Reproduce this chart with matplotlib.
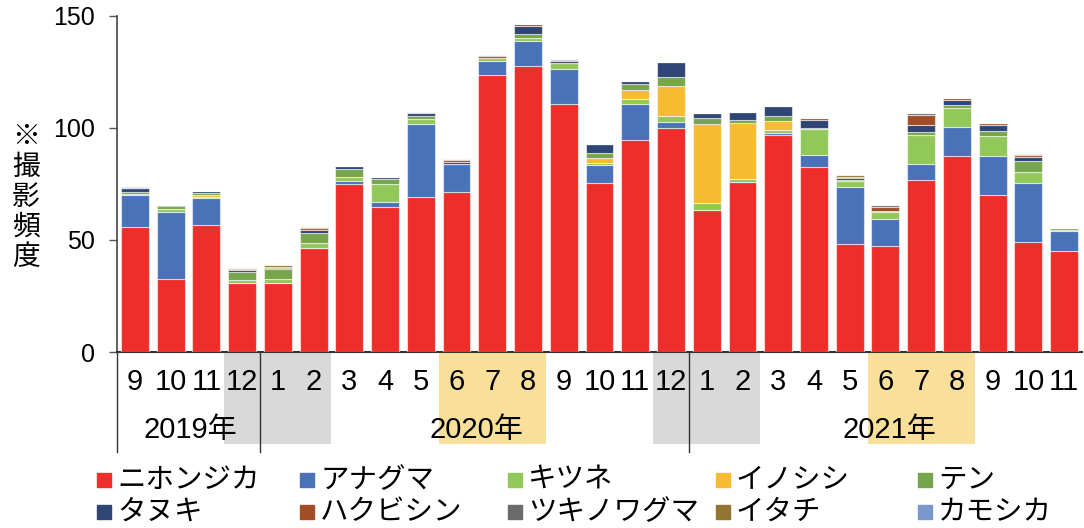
import matplotlib
matplotlib.use("Agg")
import matplotlib.pyplot as plt
from matplotlib import font_manager
from matplotlib.patches import Rectangle
from matplotlib.transforms import blended_transform_factory
import numpy as np

# ---- data -------------------------------------------------------------
months = ["9", "10", "11", "12",
          "1", "2", "3", "4", "5", "6", "7", "8", "9", "10", "11", "12",
          "1", "2", "3", "4", "5", "6", "7", "8", "9", "10", "11"]
years = ["2019年", "2020年", "2021年"]

species = ["ニホンジカ", "アナグマ", "キツネ", "イノシシ", "テン",
           "タヌキ", "ハクビシン", "ツキノワグマ", "イタチ", "カモシカ"]

sika = [56, 32.5, 56.5, 31, 31, 46.3, 75, 64.6, 69.2, 71.6, 123.5, 127.8, 110.6,
        75.6, 94.5, 99.8, 63.3, 76, 96.7, 82.7, 48.2, 47.2, 76.6, 87.3, 70.2, 49.1, 45]
anaguma = [14, 30, 12.4, 0, 0, 0.3, 1.5, 2.4, 32.7, 12.5, 6.6, 11.2, 15.9,
           8, 16.4, 3, 0, 0, 1.2, 5.2, 25.6, 12.3, 7.3, 13, 17.4, 26.5, 9.2]
kitsune = [0.7, 1.2, 0.4, 1.3, 1.5, 2.1, 1.6, 8.1, 2.1, 0, 1.0, 1.3, 2.5,
           0.6, 1.9, 2.7, 3.1, 1.4, 1.0, 11.8, 2.5, 3.0, 13, 8.6, 8.8, 4.8, 0.3]
inoshishi = [0, 0, 0.7, 0, 0, 0, 0, 0, 0, 0, 0, 0, 0,
             2.5, 4.3, 13.4, 35.5, 24.8, 4.4, 0, 0, 0, 0, 0, 0, 0, 0]
ten = [0.8, 1.4, 0.9, 3.4, 4.6, 4.6, 3.6, 2.3, 1.5, 0, 0.3, 1.8, 0,
       2.1, 2.7, 3.9, 2.7, 1.5, 2.2, 0.5, 0.4, 0.6, 1.3, 1.2, 2.3, 4.9, 1.0]
tanuki = [1.5, 0.5, 1.0, 1.0, 0.5, 1.3, 1.5, 0.9, 1.3, 0.6, 0, 3.6, 0.9,
          3.9, 1.3, 6.8, 2.2, 3.6, 4.4, 3.4, 1.1, 0, 3.1, 2.5, 2.6, 1.6, 0]
hakubishin = [0, 0, 0, 0.5, 0.5, 0.6, 0, 0, 0, 0.9, 0.7, 0.6, 0.3,
              0, 0, 0, 0, 0, 0, 0.9, 0.5, 1.5, 4.5, 0.7, 0.9, 0.9, 0]
tsukinowaguma = [0, 0, 0, 0, 0, 0, 0, 0, 0.5, 0.6, 0.5, 0, 0.6,
                 0, 0, 0, 0, 0, 0, 0, 0, 1.0, 0.9, 0, 0, 0, 0]
itachi = [0, 0, 0, 0.5, 0.6, 0.5, 0, 0, 0, 0, 0, 0, 0,
          0, 0, 0, 0, 0, 0, 0, 0.5, 0, 0, 0, 0, 0.7, 0]
kamoshika = [0.5, 0, 0, 0, 0, 0, 0, 0, 0, 0, 0, 0, 0,
             0, 0, 0, 0, 0, 0, 0, 0, 0, 0, 0, 0, 0, 0]

series = [sika, anaguma, kitsune, inoshishi, ten,
          tanuki, hakubishin, tsukinowaguma, itachi, kamoshika]
colors = ["#EE2E2A", "#4A72B8", "#92C85A", "#F6BB30", "#77A54B",
          "#2E4576", "#A14D26", "#6B6B6B", "#917530", "#7B98CC"]

# ---- fonts ------------------------------------------------------------
available = {f.name for f in font_manager.fontManager.ttflist}
narrow = "Liberation Sans Narrow" if "Liberation Sans Narrow" in available else "Liberation Sans"
fam = [narrow, "Noto Sans CJK JP", "DejaVu Sans"]
cjk = ["Noto Sans CJK JP", "DejaVu Sans"]
plt.rcParams["font.family"] = fam

# ---- figure -----------------------------------------------------------
W, H = 1084, 528
fig = plt.figure(figsize=(W / 100, H / 100), dpi=100)
ax = fig.add_axes([117 / W, 1 - 352 / H, (1082 - 117) / W, (352 - 16) / H])

x = np.arange(len(months))
bottom = np.zeros(len(months))
for vals, col in zip(series, colors):
    v = np.array(vals, dtype=float)
    ax.bar(x, v, bottom=bottom, width=0.78, color=col,
           edgecolor=(1, 1, 1, 0.55), linewidth=0.8, zorder=3)
    bottom += v

ax.set_xlim(-0.5, len(months) - 0.5)
ax.set_ylim(0, 150)
ax.set_yticks([0, 50, 100, 150])
ax.tick_params(axis="y", direction="out", length=6, width=1.0,
               color="#555555", labelsize=18, pad=10)
for lab in ax.get_yticklabels():
    lab.set_family(["Liberation Sans", "DejaVu Sans"])
ax.set_xticks([])
for s in ["top", "right"]:
    ax.spines[s].set_visible(False)
ax.spines["left"].set_linewidth(1.2)
ax.spines["left"].set_color("#444444")
ax.spines["bottom"].set_linewidth(1.5)
ax.spines["bottom"].set_color("#333333")

# ---- month / year band under the axis ---------------------------------
tr = blended_transform_factory(ax.transData, ax.transAxes)
band_lo = -92 / 336
line_lo = -100 / 336

def shade(i0, i1, color):
    ax.add_patch(Rectangle((i0 - 0.5, band_lo), i1 - i0 + 1, -band_lo,
                           transform=tr, color=color, clip_on=False,
                           zorder=0, linewidth=0))

shade(3, 5, "#D9D9D9")
shade(15, 17, "#D9D9D9")
shade(9, 11, "#F9E09A")
shade(21, 23, "#F9E09A")

for xb in [-0.5, 3.5, 15.5]:
    ax.plot([xb, xb], [0, line_lo], transform=tr, color="#333333",
            linewidth=1.0, clip_on=False, zorder=1)

for i, m in enumerate(months):
    ax.text(i, -30 / 336, m, transform=tr, ha="center", va="center",
            fontsize=21, family=fam)

year_centers = [1.55, 9.55, 21.1]
for xc, yl in zip(year_centers, years):
    ax.text(xc, -78 / 336, yl, transform=tr, ha="center", va="center",
            fontsize=21, family=fam)

# ---- y label ----------------------------------------------------------
fig.text(26 / W, 1 - 197 / H, "※\n撮\n影\n頻\n度", ha="center", va="center",
         fontsize=20, linespacing=1.0, family=cjk)

# ---- legend -----------------------------------------------------------
col_x = [97, 300, 508, 716, 918]
row_y = [480, 512]
for k, (name, col) in enumerate(zip(species, colors)):
    r, c = divmod(k, 5)
    x0, y0 = col_x[c], row_y[r]
    fig.patches.append(Rectangle((x0 / W, 1 - (y0 + 7) / H), 14 / W, 14 / H,
                                 transform=fig.transFigure, color=col,
                                 figure=fig))
    fig.text((x0 + 20) / W, 1 - y0 / H, name, ha="left", va="center",
             fontsize=20.5, family=cjk)

fig.savefig("out.png", dpi=100)
